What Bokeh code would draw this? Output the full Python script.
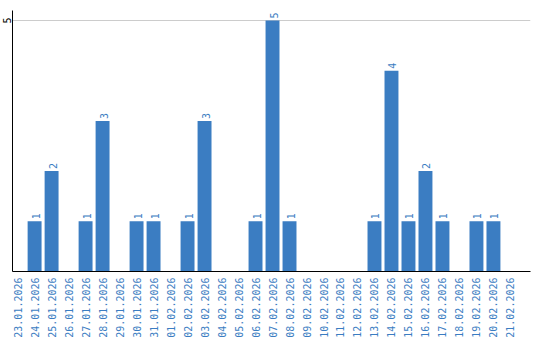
import math
from bokeh.plotting import figure
from bokeh.models import Range1d, FixedTicker, ColumnDataSource
from bokeh.core.properties import value
from bokeh.embed import file_html
from bokeh.resources import INLINE

dates = ["23.01.2026", "24.01.2026", "25.01.2026", "26.01.2026", "27.01.2026",
         "28.01.2026", "29.01.2026", "30.01.2026", "31.01.2026", "01.02.2026",
         "02.02.2026", "03.02.2026", "04.02.2026", "05.02.2026", "06.02.2026",
         "07.02.2026", "08.02.2026", "09.02.2026", "10.02.2026", "11.02.2026",
         "12.02.2026", "13.02.2026", "14.02.2026", "15.02.2026", "16.02.2026",
         "17.02.2026", "18.02.2026", "19.02.2026", "20.02.2026", "21.02.2026"]
counts = [0, 1, 2, 0, 1, 3, 0, 1, 1, 0,
          1, 3, 0, 0, 1, 5, 1, 0, 0, 0,
          0, 1, 4, 1, 2, 1, 0, 1, 1, 0]
y_ticks = [5]

BLUE = "#3b7dc2"
FONT = "DejaVu Sans Mono"

idx = list(range(len(dates)))
src = ColumnDataSource(dict(x=idx, y=counts))
nz = [i for i in idx if counts[i] > 0]
src_lbl = ColumnDataSource(dict(x=[idx[i] for i in nz], y=[counts[i] for i in nz],
                                lbl=[str(counts[i]) for i in nz]))

p = figure(width=540, height=340, output_backend="svg", toolbar_location=None,
           x_range=Range1d(-0.30, 30.18), y_range=Range1d(0, 5.2),
           min_border_left=0, min_border_right=10, min_border_top=10,
           min_border_bottom=0)
p.outline_line_color = None
p.background_fill_color = "white"
p.border_fill_color = "white"

p.vbar(x="x", top="y", width=0.82, bottom=0, source=src,
       fill_color=BLUE, line_color=None)
p.text(x="x", y="y", text="lbl", source=src_lbl, angle=math.pi / 2,
       text_align="left", text_baseline="middle", y_offset=-2, x_offset=1,
       text_font=value(FONT), text_font_size="10px", text_color=BLUE)

p.xaxis.ticker = FixedTicker(ticks=idx)
p.xaxis.major_label_overrides = {i: d for i, d in zip(idx, dates)}
p.xaxis.major_label_orientation = math.pi / 2
p.xaxis.major_label_text_font = FONT
p.xaxis.major_label_text_font_size = "10px"
p.xaxis.major_label_text_color = BLUE
p.xaxis.major_tick_line_color = None
p.xaxis.minor_tick_line_color = None
p.xaxis.major_tick_out = 0
p.xaxis.major_tick_in = 0
p.xaxis.major_label_standoff = 6
p.xaxis.axis_line_color = "black"

p.yaxis.ticker = FixedTicker(ticks=y_ticks)
p.yaxis.major_label_orientation = "parallel"
p.yaxis.major_label_text_font = FONT
p.yaxis.major_label_text_font_size = "10px"
p.yaxis.major_label_text_color = "black"
p.yaxis.major_tick_line_color = None
p.yaxis.minor_tick_line_color = None
p.yaxis.major_tick_out = 0
p.yaxis.major_tick_in = 0
p.yaxis.major_label_standoff = 1
p.yaxis.axis_line_color = "black"

p.xgrid.grid_line_color = None
p.ygrid.ticker = FixedTicker(ticks=y_ticks)
p.ygrid.grid_line_color = "#cccccc"

open("out.html", "w").write(file_html(p, INLINE))
